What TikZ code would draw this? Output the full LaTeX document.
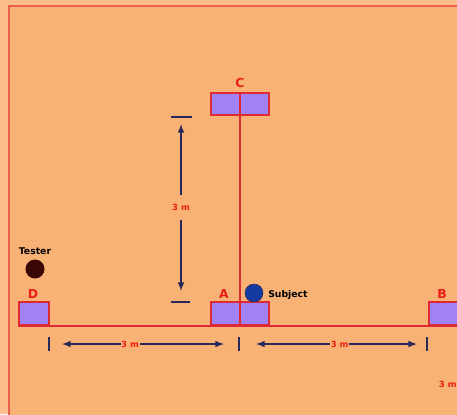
\documentclass[tikz,border=0pt]{standalone}
\usepackage{fontspec}
\setmainfont{DejaVu Sans}
\definecolor{paleout}{RGB}{251,190,140}
\definecolor{framered}{RGB}{232,96,80}
\definecolor{peach}{RGB}{249,178,117}
\definecolor{lavender}{RGB}{160,130,245}
\definecolor{boxred}{RGB}{222,42,52}
\definecolor{labelred}{RGB}{232,30,20}
\definecolor{navy}{RGB}{42,40,90}
\definecolor{subjblue}{RGB}{20,60,160}
\definecolor{testerbrown}{RGB}{58,6,6}

\begin{document}
\begin{tikzpicture}[x=0.025cm, y=-0.025cm, >=latex,
  box/.style={draw=boxred, fill=lavender, line width=1.1pt, inner sep=0pt},
  redline/.style={draw=boxred, line width=1.4pt},
  lbl/.style={text=labelred, inner sep=0pt, font=\bfseries\fontsize{8.8}{10}\selectfont},
  dim/.style={draw=navy, line width=1.1pt},
  tick/.style={draw=navy, line width=1.6pt},
  dimlbl/.style={text=labelred, fill=peach, inner sep=0.5pt, font=\bfseries\fontsize{6}{7}\selectfont},
  who/.style={inner sep=0pt, font=\bfseries\fontsize{6.6}{7}\selectfont}]
\useasboundingbox (0,0) rectangle (457,414);
\fill[paleout] (0,0) rectangle (457,414);
\draw[framered, line width=1.8pt, fill=peach] (9,6) rectangle (470,430);

% cones
\node[box, minimum width=1.45cm, minimum height=0.55cm] (boxC) at (240,104) {};
\node[box, minimum width=1.45cm, minimum height=0.575cm] (boxA) at (240,313.5) {};
\node[box, minimum width=0.75cm, minimum height=0.575cm] (boxD) at (34,313.5) {};
\node[box, minimum width=0.75cm, minimum height=0.575cm] (boxB) at (444,313.5) {};
\draw[redline] (boxD.south west) -- (boxB.south east);
\draw[redline] (boxC.north) -- (boxA.south);

\node[lbl] (labC) at (240,83) {C};
\node[lbl] (labA) at (224,294) {A};
\node[lbl] (labD) at (33,294) {D};
\node[lbl] (labB) at (442,294) {B};

% people
\node[circle, fill=subjblue, draw=navy, line width=0.4pt, minimum size=0.45cm, inner sep=0pt] (subj) at (254,293) {};
\node[who, anchor=base west] (subjtxt) at (268,297.5) {Subject};
\node[circle, fill=testerbrown, minimum size=0.475cm, inner sep=0pt] (tester) at (35,269) {};
\node[who, anchor=base] (testtxt) at (35,254) {Tester};

% distances
\draw[tick] (171,117) -- (192,117);
\draw[tick] (171,302) -- (190,302);
\coordinate (vtop) at (181,124);
\coordinate (vbot) at (181,291);
\draw[dim, <->] (vtop) -- (vbot) node[dimlbl, midway, minimum height=0.62cm] (dimCA) {3 m};

\draw[tick] (49,337) -- (49,351);
\draw[tick] (239,337) -- (239,351);
\draw[tick] (427,337) -- (427,351);
\coordinate (hl1) at (62,344);
\coordinate (hl2) at (224,344);
\coordinate (hr1) at (256,344);
\coordinate (hr2) at (417,344);
\draw[dim, <->] (hl1) -- (hl2) node[dimlbl, pos=0.42] (dimDA) {3 m};
\draw[dim, <->] (hr1) -- (hr2) node[dimlbl, pos=0.52] (dimAB) {3 m};
\node[dimlbl, anchor=west] (dimB) at (438,384) {3 m};
\end{tikzpicture}
\end{document}
